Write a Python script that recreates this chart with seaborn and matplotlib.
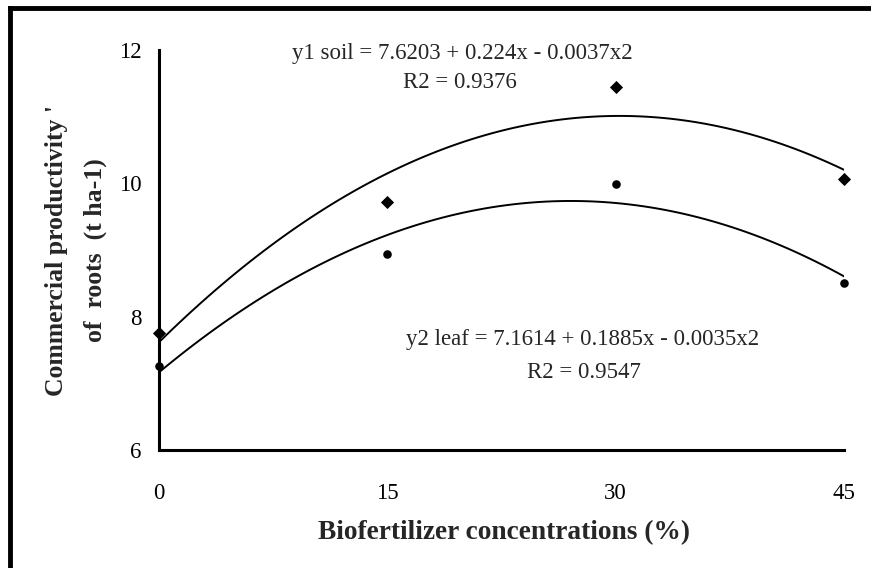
import matplotlib
matplotlib.use("Agg")
import matplotlib.pyplot as plt
import seaborn as sns
import pandas as pd
from matplotlib.lines import Line2D

# Data
concentrations = [0, 15, 30, 45]
soil_values = [7.76, 9.72, 11.44, 10.06]
leaf_values = [7.26, 8.94, 9.99, 8.51]
x_ticks = [0, 15, 30, 45]
y_ticks = [6, 8, 10, 12]
soil_eq = "y1 soil = 7.6203 + 0.224x - 0.0037x2"
soil_r2 = "R2 = 0.9376"
leaf_eq = "y2 leaf = 7.1614 + 0.1885x - 0.0035x2"
leaf_r2 = "R2 = 0.9547"
x_label = "Biofertilizer concentrations (%)"
y_label = "Commercial productivity '\nof  roots  (t ha-1)"

df_soil = pd.DataFrame({"x": concentrations, "y": soil_values})
df_leaf = pd.DataFrame({"x": concentrations, "y": leaf_values})

sns.set_style("white")
plt.rcParams["font.family"] = ["Liberation Serif", "DejaVu Serif"]

W, H = 871, 568
fig = plt.figure(figsize=(W / 100, H / 100), dpi=100)
ax = fig.add_axes([159 / W, 1 - 450 / H, (844 - 159) / W, (450 - 50) / H])

line_kws = dict(color="black", lw=1.4)
sns.regplot(data=df_soil, x="x", y="y", order=2, ci=None, scatter=False,
            line_kws=line_kws, ax=ax)
sns.regplot(data=df_leaf, x="x", y="y", order=2, ci=None, scatter=False,
            line_kws=line_kws, ax=ax)
sns.scatterplot(data=df_soil, x="x", y="y", marker="D", s=45, color="black",
                edgecolor="black", linewidth=0, ax=ax, clip_on=False, zorder=5)
sns.scatterplot(data=df_leaf, x="x", y="y", marker="o", s=38, color="black",
                edgecolor="black", linewidth=0, ax=ax, clip_on=False, zorder=5)

ax.set_xlim(0, 45)
ax.set_ylim(6, 12)
ax.set_xticks(x_ticks)
ax.set_yticks(y_ticks)
ax.set_xticklabels([str(v) for v in x_ticks])
ax.set_yticklabels([str(v) for v in y_ticks])
for s in ["top", "right"]:
    ax.spines[s].set_visible(False)
for s in ["left", "bottom"]:
    ax.spines[s].set_linewidth(2.2)
    ax.spines[s].set_color("black")
ax.tick_params(axis="x", direction="out", length=6.5, width=2.2, pad=17,
               labelsize=16.5, colors="black")
ax.tick_params(axis="y", direction="out", length=4.5, width=2.2, pad=8,
               labelsize=16.5, colors="black")
ax.set_xlabel("")
ax.set_ylabel("")
ax.grid(False)

fig.text(504 / W, 1 - 533 / H, x_label, ha="center", va="center",
         fontsize=19.7, fontweight="bold")
fig.text(76 / W, 1 - 250 / H, y_label, ha="center", va="center",
         rotation=90, fontsize=18.5, fontweight="bold", linespacing=1.85,
         multialignment="center")

fig.text(462 / W, 1 - 53 / H, soil_eq, ha="center", va="center", fontsize=16.5)
fig.text(460 / W, 1 - 83 / H, soil_r2, ha="center", va="center", fontsize=16.5)
fig.text(583 / W, 1 - 340 / H, leaf_eq, ha="center", va="center", fontsize=16.5)
fig.text(584 / W, 1 - 372 / H, leaf_r2, ha="center", va="center", fontsize=16.5)

# figure frame (left and top edges visible)
fig.add_artist(Line2D([9.5 / W, 9.5 / W], [0, 1 - 8 / H], transform=fig.transFigure,
                      color="black", lw=3.5, solid_capstyle="projecting"))
fig.add_artist(Line2D([9.5 / W, 1], [1 - 8 / H, 1 - 8 / H], transform=fig.transFigure,
                      color="black", lw=3.5, solid_capstyle="projecting"))

fig.savefig("out.png", dpi=100, facecolor="white")
